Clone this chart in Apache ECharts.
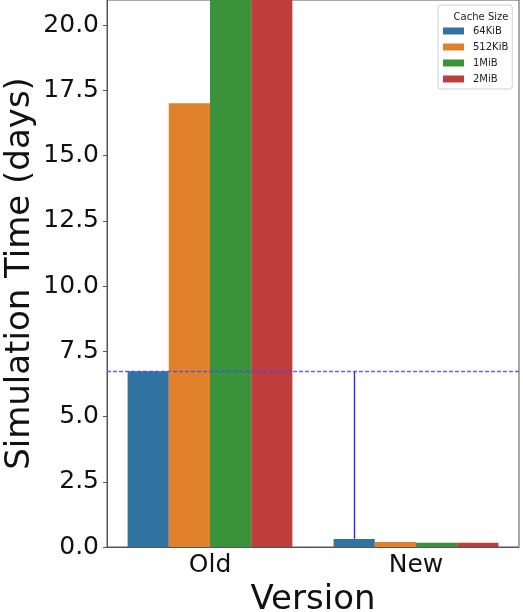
<!DOCTYPE html>
<html>
<head>
<meta charset="utf-8">
<script src="https://cdn.jsdelivr.net/npm/echarts@6/dist/echarts.min.js"></script>
<style>
  html, body { margin: 0; padding: 0; background: #fff; }
  #chart { width: 523px; height: 612px; }
</style>
</head>
<body>
<div id="chart"></div>
<script>
// Simulation time per version, grouped by cache size
const versions = ['Old', 'New'];
const cacheSizes = ['64KiB', '512KiB', '1MiB', '2MiB'];
const time64KiB = [6.73, 0.31];
const time512KiB = [17.0, 0.19];
const time1MiB = [24.5, 0.16];
const time2MiB = [26.0, 0.16];
const yTicks = [0, 2.5, 5, 7.5, 10, 12.5, 15, 17.5, 20];
const yMax = 20.96;

const colors = ['#3274a1', '#e1812c', '#3a923a', '#c03d3e'];
const seriesValues = [time64KiB, time512KiB, time1MiB, time2MiB];
const font = 'DejaVu Sans';

const series = cacheSizes.map((name, i) => ({
  name,
  type: 'bar',
  data: seriesValues[i],
  barGap: '0%',
  barCategoryGap: '20%',
  itemStyle: { color: colors[i] },
  clip: true
}));

const dashedStyle = { color: '#4646ff', opacity: 0.85, type: [4, 2], width: 1.4 };
const dropStyle = { color: '#2c2cf0', opacity: 1, type: 'solid', width: 1.4 };

// reference line at the old 64KiB time, plus drop line to the new 64KiB bar
series[0].markLine = {
  silent: true,
  symbol: 'none',
  label: { show: false },
  emphasis: { disabled: true },
  lineStyle: dashedStyle,
  data: [
    { yAxis: time64KiB[0], lineStyle: dashedStyle },
    [
      { coord: [1, time64KiB[1]], lineStyle: dropStyle },
      { coord: [1, time64KiB[0]] }
    ]
  ]
};

const chart = echarts.init(document.getElementById('chart'), null, { renderer: 'canvas' });
chart.setOption({
  animation: false,
  backgroundColor: '#fff',
  grid: {
    left: 107, right: 4, top: 0, bottom: 65,
    outerBoundsMode: 'none',
    containLabel: false,
    show: true, borderColor: '#555', borderWidth: 1, backgroundColor: 'transparent'
  },
  title: {
    text: 'Cache Size',
    left: 476, top: 7, textAlign: 'center',
    textStyle: { fontFamily: font, fontSize: 10, fontWeight: 'normal', color: '#222' }
  },
  legend: {
    data: cacheSizes,
    orient: 'vertical',
    left: 438, top: 5,
    padding: [21, 4, 5, 5],
    itemWidth: 21, itemHeight: 7, itemGap: 6,
    backgroundColor: '#fff',
    borderColor: '#d0d0d0', borderWidth: 1, borderRadius: 3,
    icon: 'rect',
    textStyle: { fontFamily: font, fontSize: 10, color: '#222', padding: [0, 0, 0, 4] }
  },
  xAxis: {
    type: 'category',
    data: versions,
    name: 'Version',
    nameLocation: 'middle',
    nameGap: 36,
    nameMoveOverlap: false,
    nameTextStyle: { fontFamily: font, fontSize: 34, color: '#111' },
    axisLine: { lineStyle: { color: '#555', width: 1 } },
    axisTick: { alignWithLabel: true, length: 4, lineStyle: { color: '#555' } },
    axisLabel: { fontFamily: font, fontSize: 25, color: '#111', margin: 6 }
  },
  yAxis: {
    type: 'value',
    min: 0, max: yMax,
    name: 'Simulation Time (days)',
    nameLocation: 'middle',
    nameGap: 70,
    nameMoveOverlap: false,
    nameTextStyle: { fontFamily: font, fontSize: 34, color: '#111' },
    splitLine: { show: false },
    axisLine: { show: true, lineStyle: { color: '#555', width: 1 } },
    axisTick: { show: true, length: 4, lineStyle: { color: '#555' }, customValues: yTicks },
    axisLabel: {
      fontFamily: font, fontSize: 25, color: '#111', margin: 8,
      customValues: yTicks,
      formatter: v => v.toFixed(1)
    }
  },
  series
});
</script>
</body>
</html>
